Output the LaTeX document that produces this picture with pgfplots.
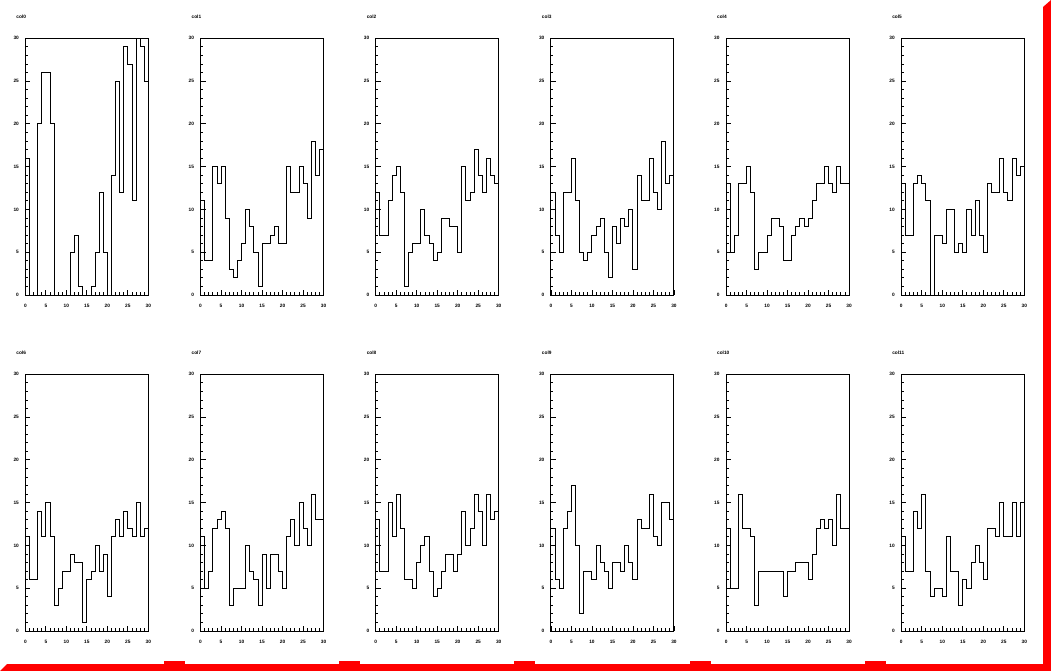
\documentclass[border=0pt]{standalone}
\usepackage{fontspec}
\setmainfont{Liberation Sans}
\usepackage{pgfplots}
\usepackage{pgfplotstable}
\pgfplotsset{compat=1.18}
\pgfplotstableread{
x  c0 c1 c2 c3 c4 c5 c6 c7 c8 c9 c10 c11
0  16 11 12 12 13 13 11 11 13 12 12 11
1  0  4  7  7  5  7  6  5  7  6  5  7
2  0  4  7  5  7  7  6  7  7  5  5  7
3  20 15 11 12 13 13 14 12 15 12 16 14
4  26 13 14 12 13 14 11 13 11 14 12 12
5  26 15 15 16 15 13 15 14 16 17 12 16
6  20 9  12 11 12 11 11 12 12 10 11 7
7  0  3  1  5  3  0  3  3  6  2  3  4
8  0  2  5  4  5  7  5  5  6  7  7  5
9  0  4  6  5  5  7  7  5  5  7  7  5
10 0  6  6  7  7  6  7  5  8  6  7  4
11 5  10 10 8  9  10 9  10 10 10 7  11
12 7  8  7  9  9  10 8  7  11 8  7  7
13 1  5  6  5  8  5  8  6  7  7  7  7
14 0  1  4  2  4  6  1  3  4  5  4  3
15 0  6  5  8  4  5  6  9  5  8  7  6
16 1  6  9  6  7  10 7  5  7  8  7  5
17 5  7  9  9  8  7  10 9  9  7  8  8
18 12 8  8  8  9  11 7  9  9  10 8  10
19 5  6  8  10 8  7  9  7  7  8  8  8
20 0  6  5  3  9  5  4  5  9  6  6  6
21 14 15 15 14 11 13 11 11 14 13 9  12
22 25 12 11 11 13 12 13 13 10 12 12 12
23 12 12 12 11 13 12 11 10 12 12 13 11
24 29 15 17 16 15 16 14 15 16 16 12 15
25 27 13 14 12 13 12 12 12 14 11 13 11
26 11 9  12 10 12 11 11 10 10 10 10 11
27 30 18 16 18 15 16 15 16 16 15 16 15
28 29 14 14 13 13 14 11 13 13 15 12 11
29 25 17 13 14 13 15 12 13 14 13 12 15
30 25 17 13 14 13 15 12 13 14 13 12 15
}\datatable
\pgfplotsset{
  hist/.style={
    scale only axis, width=123bp, height=256.7bp, anchor=south west,
    xmin=0, xmax=30, ymin=0, ymax=30,
    xtick={0,5,...,30}, ytick={0,5,...,30}, minor tick num=4,
    tick align=inside, xtick pos=left, ytick pos=left,
    major tick length=5bp, minor tick length=2.5bp,
    tick style={black, line width=0.8bp},
    axis line style={line width=0.9bp},
    /pgf/number format/assume math mode=true,
    tick label style={font=\fontsize{4.8}{5}\selectfont\bfseries},
    xticklabel style={yshift=-6bp},
    yticklabel style={xshift=-3bp},
    title style={anchor=west, at={(0,1)}, xshift=-12.5bp, yshift=16bp,
      font=\fontsize{4.8}{5}\selectfont\bfseries},
  }
}
\newcommand{\hpanel}[4]{%
  \begin{axis}[hist, at={(#1,#2)}, title={#3}]
    \addplot[const plot mark left, black, line width=0.9bp, mark=none] table[x=x, y=#4]{\datatable};
  \end{axis}}
\begin{document}
\begin{tikzpicture}
\fill[white] (0,0) rectangle (1051bp,671bp);
\useasboundingbox (0,0) rectangle (1051bp,671bp);
\begin{scope}[x=1bp,y=1bp]
\fill[red] (0,0) -- (7,7) -- (1043,7) -- (1043,664) -- (1051,671) -- (1051,0) -- cycle;
\foreach \bx in {164,339,514,690,865}{
  \fill[red] (\bx,6.5) rectangle ++(21,3.5);
}
\end{scope}
\hpanel{25.4bp}{376bp}{col0}{c0}
\hpanel{200.57bp}{376bp}{col1}{c1}
\hpanel{375.74bp}{376bp}{col2}{c2}
\hpanel{550.91bp}{376bp}{col3}{c3}
\hpanel{726.08bp}{376bp}{col4}{c4}
\hpanel{901.25bp}{376bp}{col5}{c5}
\hpanel{25.4bp}{40bp}{col6}{c6}
\hpanel{200.57bp}{40bp}{col7}{c7}
\hpanel{375.74bp}{40bp}{col8}{c8}
\hpanel{550.91bp}{40bp}{col9}{c9}
\hpanel{726.08bp}{40bp}{col10}{c10}
\hpanel{901.25bp}{40bp}{col11}{c11}
\end{tikzpicture}
\end{document}
